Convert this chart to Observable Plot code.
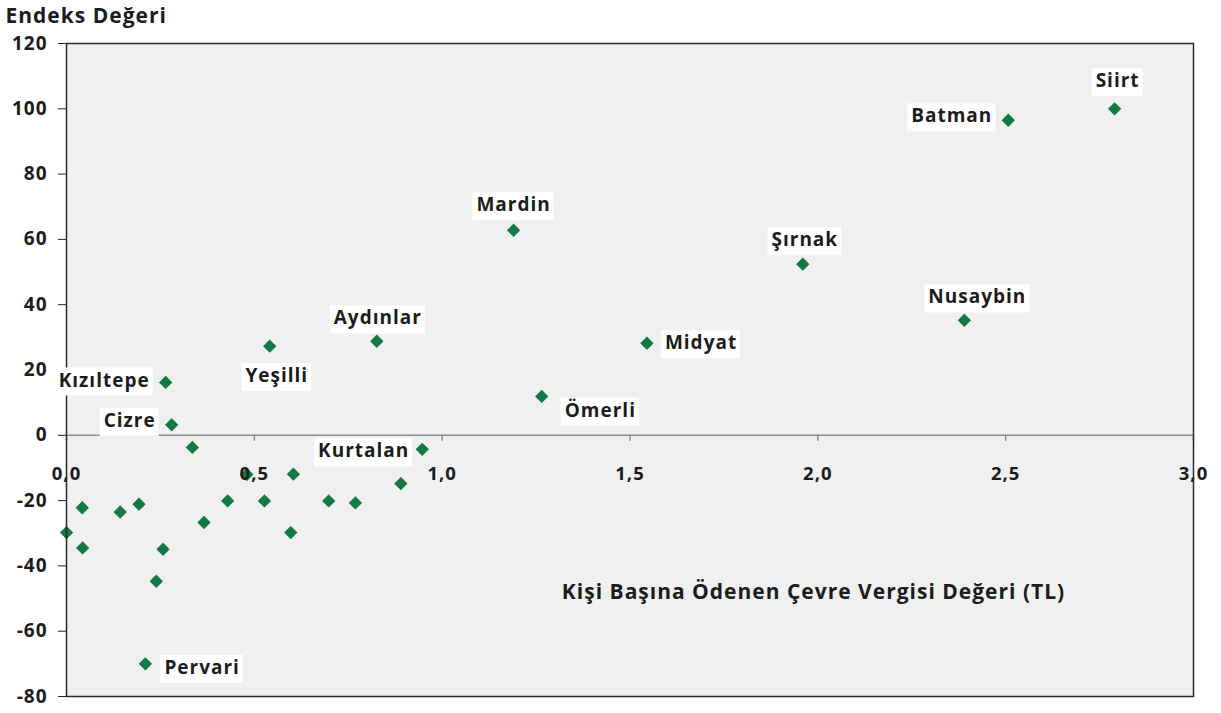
<!DOCTYPE html>
<html><head><meta charset="utf-8">
<script src="https://cdn.jsdelivr.net/npm/d3@7"></script>
<script src="https://cdn.jsdelivr.net/npm/@observablehq/plot@0.6"></script>
<style>
body{margin:0;background:#fff;}
svg{font-family:"Open Sans",Lato,sans-serif;}
svg text{letter-spacing:1px;}
</style>
</head><body><div id="chart"></div>
<script>
// Labeled districts
const names   = ["Siirt","Batman","Mardin","Şırnak","Nusaybin","Aydınlar","Yeşilli","Midyat","Kızıltepe","Ömerli","Cizre","Kurtalan","Pervari"];
const namedX  = [2.79, 2.507, 1.19, 1.96, 2.39, 0.826, 0.541, 1.545, 0.264, 1.265, 0.28, 0.947, 0.21];
const namedY  = [100, 96.5, 62.8, 52.4, 35.2, 28.8, 27.3, 28.2, 16.2, 11.9, 3.2, -4.3, -70];
// Unlabeled districts
const otherX  = [0.335, 0.604, 0.89, 0.042, 0.143, 0.193, 0.429, 0.527, 0.698, 0.769, 0.0, 0.366, 0.597, 0.043, 0.257, 0.239, 0.48];
const otherY  = [-3.7, -11.9, -14.8, -22.2, -23.5, -21.1, -20.1, -20.1, -20.1, -20.7, -29.8, -26.7, -29.8, -34.5, -34.9, -44.7, -12];
// Axes
const xTicks = [0, 0.5, 1, 1.5, 2, 2.5, 3];
const xTickLabels = ["0,0","0,5","1,0","1,5","2,0","2,5","3,0"];
const yTicks = [-80, -60, -40, -20, 0, 20, 40, 60, 80, 100, 120];
const yTitle = "Endeks Değeri";
const xTitle = "Kişi Başına Ödenen Çevre Vergisi Değeri (TL)";

const points = [
  ...names.map((n, i) => ({x: namedX[i], y: namedY[i]})),
  ...otherX.map((x, i) => ({x, y: otherY[i]}))
];
const labels = names.map((n, i) => ({name: n, x: namedX[i], y: namedY[i]}));

// label placement (anchor, dx, dy)
const place = {
  "Siirt": ["middle", 3, -28],
  "Batman": ["end", -16, -4],
  "Mardin": ["middle", 0, -25],
  "Şırnak": ["middle", 2, -24],
  "Nusaybin": ["middle", 13, -23],
  "Aydınlar": ["middle", 1, -23],
  "Yeşilli": ["middle", 7, 30],
  "Midyat": ["start", 18, 0],
  "Kızıltepe": ["end", -16, -2],
  "Ömerli": ["start", 23, 14],
  "Cizre": ["end", -16, -4],
  "Kurtalan": ["end", -13, 2],
  "Pervari": ["start", 19, 4]
};

const txt = "#1c1c1c";
const labelMarks = labels.map(d => {
  const [a, dx, dy] = place[d.name];
  return Plot.text([d], {x: "x", y: "y", text: "name", textAnchor: a, dx, dy,
    fontSize: 19, fontWeight: "bold", fill: txt, className: "lbl"});
});

const chart = Plot.plot({
  width: 1221, height: 713,
  marginLeft: 66, marginRight: 28, marginTop: 43, marginBottom: 17,
  x: {domain: [0, 3], axis: null},
  y: {domain: [-80, 120]},
  marks: [
    Plot.frame({fill: "#f0f0f0"}),
    Plot.ruleY([0], {stroke: "#8c8c8c", strokeWidth: 1.5}),
    Plot.ruleX(xTicks, {x: d => d, y1: 0, y2: 0, insetBottom: -6, stroke: "#8c8c8c", strokeWidth: 1.5}),
    Plot.dot(points, {x: "x", y: "y", symbol: "diamond2", r: 6, fill: "#117a45"}),
    Plot.text(xTicks, {x: d => d, y: 0, dy: 39, text: (d, i) => xTickLabels[i], fontSize: 18.5, fontWeight: "bold", fill: txt}),
    Plot.axisY({ticks: yTicks, tickFormat: d => String(d), tickSize: 8, tickPadding: 11, fontSize: 19, fontWeight: "bold", fill: txt, stroke: "#222", label: null}),
    Plot.frame({stroke: "#2a2a2a", strokeWidth: 1.5}),
    ...labelMarks,
    Plot.text([yTitle], {frameAnchor: "top-left", textAnchor: "start", lineAnchor: "middle", dx: -61, dy: -27, fontSize: 21, fontWeight: "bold", fill: txt}),
    Plot.text([xTitle], {frameAnchor: "top-left", textAnchor: "middle", lineAnchor: "middle", dx: 747, dy: 549, fontSize: 21, fontWeight: "bold", fill: txt})
  ]
});
document.getElementById("chart").appendChild(chart);

// white boxes behind data labels
chart.querySelectorAll("g.lbl text").forEach(t => {
  const b = t.getBBox();
  const r = document.createElementNS("http://www.w3.org/2000/svg", "rect");
  r.setAttribute("x", b.x - 4);
  r.setAttribute("y", b.y + 1);
  r.setAttribute("width", b.width + 7);
  r.setAttribute("height", b.height + 2);
  r.setAttribute("fill", "#fff");
  const tr = t.getAttribute("transform");
  if (tr) r.setAttribute("transform", tr);
  t.parentNode.insertBefore(r, t);
});
</script>
</body></html>
